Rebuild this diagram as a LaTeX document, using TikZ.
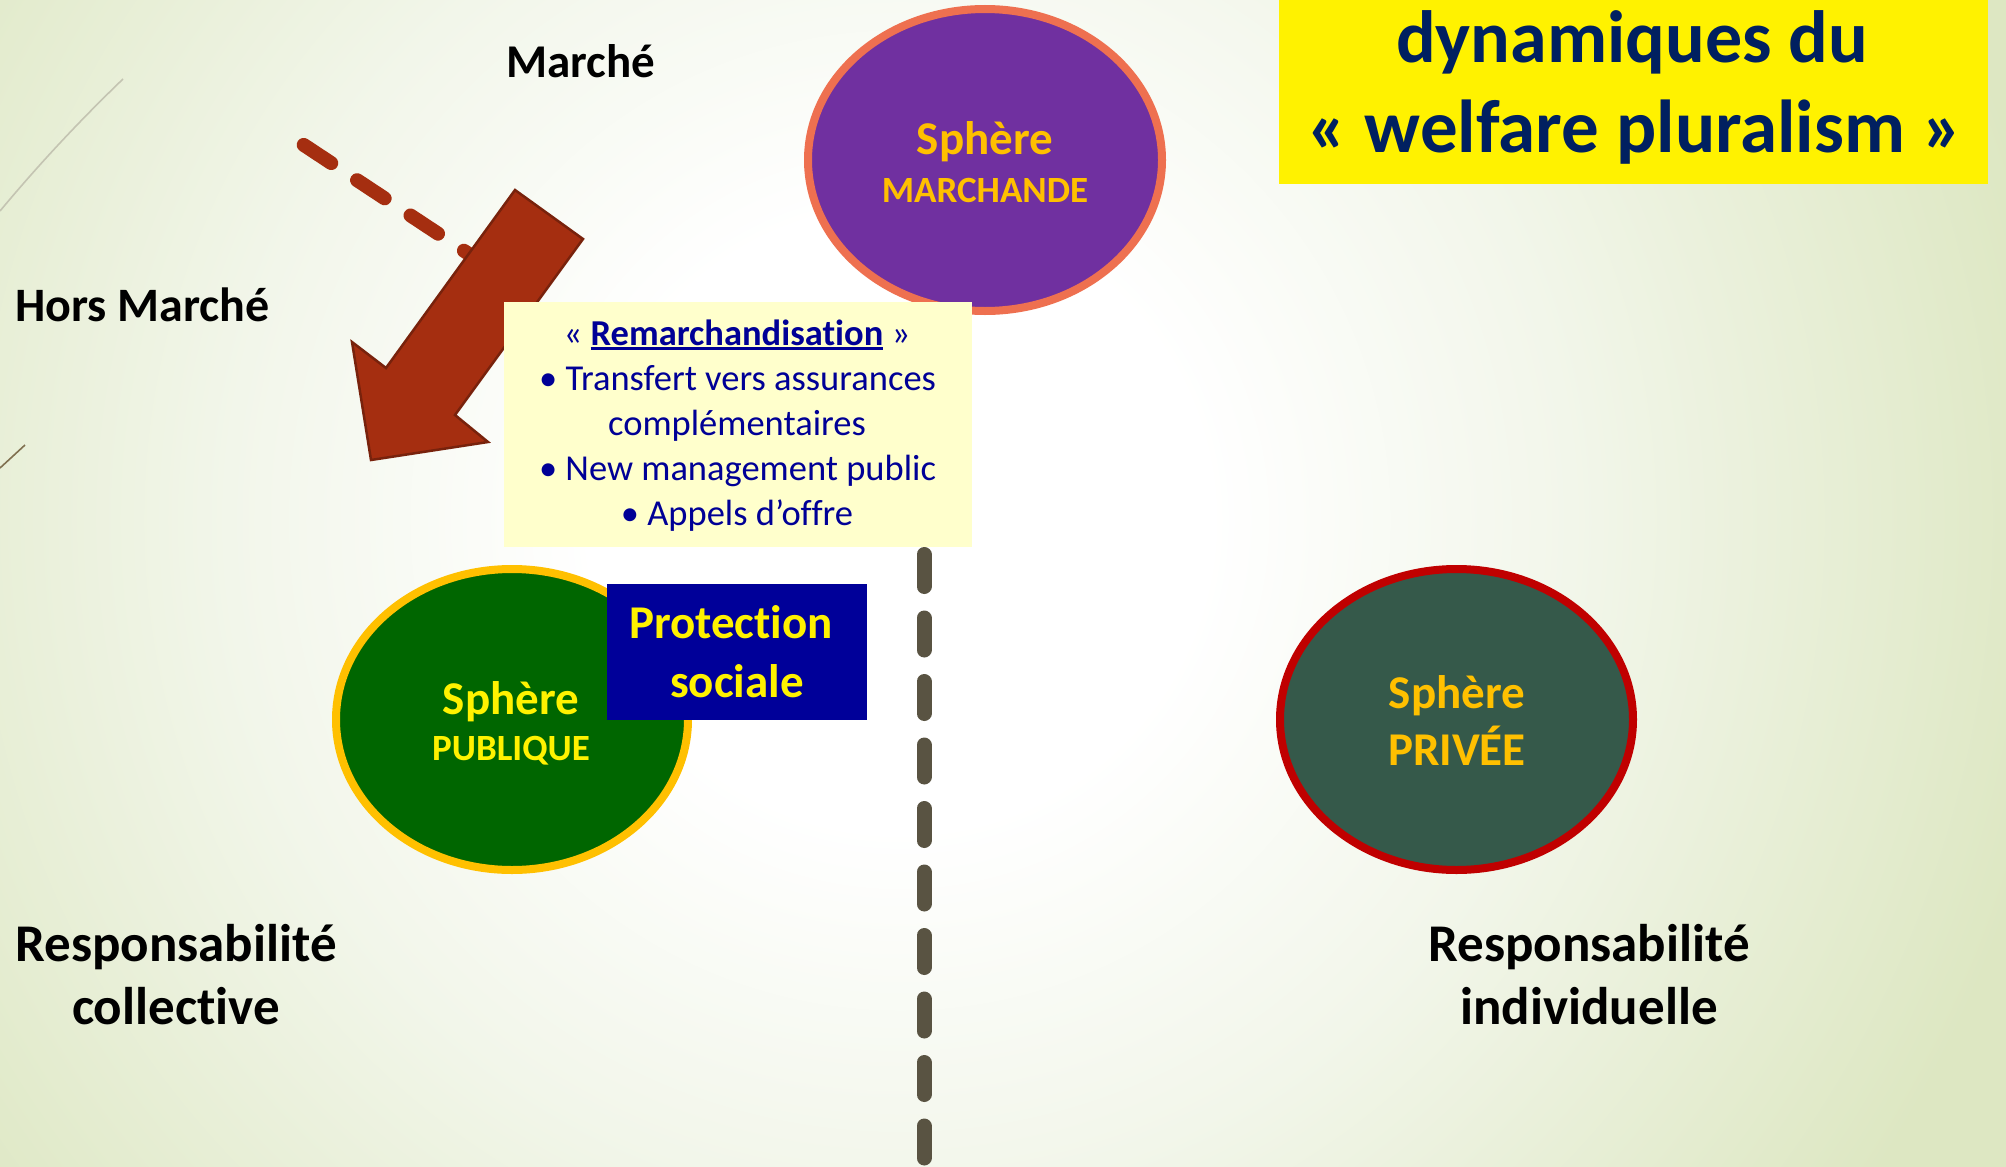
\documentclass[tikz,border=0pt]{standalone}
\usepackage{fontspec}
\setmainfont{Carlito}[Ligatures=NoCommon]
\usetikzlibrary{shapes.geometric}
\definecolor{bgouter}{RGB}{221,231,194}
\definecolor{bgmid}{RGB}{242,246,234}
\definecolor{purplefill}{RGB}{112,48,160}
\definecolor{coral}{RGB}{238,112,80}
\definecolor{gold}{RGB}{255,192,0}
\definecolor{greenfill}{RGB}{0,102,0}
\definecolor{privfill}{RGB}{53,89,74}
\definecolor{privborder}{RGB}{192,0,0}
\definecolor{arrowfill}{RGB}{165,46,16}
\definecolor{arrowline}{RGB}{120,34,12}
\definecolor{vdashcol}{RGB}{89,83,66}
\definecolor{boxfill}{RGB}{255,255,204}
\definecolor{boxtext}{RGB}{0,0,150}
\definecolor{protfill}{RGB}{0,0,153}
\definecolor{titletext}{RGB}{0,32,96}
\definecolor{deco1}{RGB}{196,196,178}
\definecolor{deco2}{RGB}{128,112,80}
\pgfdeclareradialshading{bgshade}{\pgfpoint{0bp}{0bp}}{color(0bp)=(white); color(5.5bp)=(white); color(12bp)=(bgmid); color(21bp)=(bgouter); color(50bp)=(bgouter)}
\newcommand\myul[1]{\setbox0\hbox{#1}\rlap{\rule[-5pt]{\wd0}{2.6pt}}\box0\relax}
\tikzset{
  txt/.style={inner sep=0pt, anchor=base},
  bigbold/.style={txt, font=\fontsize{47pt}{56pt}\selectfont\bfseries},
  horsbold/.style={txt, font=\fontsize{48pt}{56pt}\selectfont\bfseries},
  respbold/.style={txt, font=\fontsize{53pt}{64pt}\selectfont\bfseries},
  smallbold/.style={txt, font=\fontsize{37pt}{44pt}\selectfont\bfseries},
  boxline/.style={txt, text=boxtext, font=\fontsize{36.5pt}{45pt}\selectfont},
  titleline/.style={txt, text=titletext, font=\fontsize{74pt}{88pt}\selectfont\bfseries},
  titleline2/.style={txt, text=titletext, font=\fontsize{75pt}{88pt}\selectfont\bfseries},
  sphere/.style={ellipse, inner sep=0pt, line width=8pt},
  vdashline/.style={draw=vdashcol, line width=15pt, line cap=round, dash pattern=on 32pt off 31.5pt},
  odashline/.style={draw=arrowfill, line width=14pt, line cap=round, dash pattern=on 33pt off 31pt},
}
\begin{document}
\begin{tikzpicture}[x=1pt,y=-1pt]
\useasboundingbox (0,0) rectangle (2006,1167);
\begin{scope}
\clip (0,0) rectangle (2006,1167);
\shade[shading=bgshade] (900,520) circle[radius=1400pt];
% decorative theme lines
\coordinate (d1a) at (123,79);
\coordinate (d1b) at (0,211);
\draw[deco1, line width=1.6pt] (d1a) .. controls (70,130) and (30,175) .. (d1b);
\coordinate (d2a) at (25,445);
\coordinate (d2b) at (0,468);
\draw[deco2, line width=1.6pt] (d2a) -- (d2b);
% vertical dashed separator
\coordinate (vtop) at (924,554.5);
\coordinate (vbot) at (924,1220);
\draw[vdashline] (vtop) -- (vbot);
\end{scope}
% Sphere marchande
\node[sphere, draw=coral, fill=purplefill, minimum width=354pt, minimum height=302pt] (marchande) at (985,160) {};
% oblique dashed line
\coordinate (oa) at (303.7,144.9);
\coordinate (ob) at (495.5,271.6);
\draw[odashline] (oa) -- (ob);
% block arrow
\coordinate (a1) at (515,190);
\coordinate (a2) at (583,239);
\coordinate (a3) at (455,415);
\coordinate (a4) at (488,442);
\coordinate (a5) at (371,460);
\coordinate (a6) at (352,342);
\coordinate (a7) at (386,368);
\filldraw[fill=arrowfill, draw=arrowline, line width=2.5pt, line join=miter] (a1) -- (a2) -- (a3) -- (a4) -- (a5) -- (a6) -- (a7) -- cycle;
% Remarchandisation box
\node[fill=boxfill, inner sep=0pt, minimum width=468pt, minimum height=245pt] (remarch) at (738,424.5) {};
\node[boxline] (r1) at (737,345) {« \myul{\textbf{Remarchandisation}} »};
\node[boxline] (r2) at (737.5,390) {• Transfert vers assurances};
\node[boxline] (r3) at (737,435) {complémentaires};
\node[boxline] (r4) at (737.5,480) {• New management public};
\node[boxline] (r5) at (737,525) {• Appels d’offre};
% Sphere publique
\node[sphere, draw=gold, fill=greenfill, minimum width=352pt, minimum height=301pt] (publique) at (512,719.5) {};
% Protection sociale
\node[fill=protfill, inner sep=0pt, minimum width=260pt, minimum height=136pt] (protection) at (737,652) {};
\node[bigbold, text=yellow] (p1) at (731,638) {Protection};
\node[bigbold, text=yellow] (p2) at (737,697) {sociale};
% Sphere privee
\node[sphere, draw=privborder, fill=privfill, minimum width=353pt, minimum height=301pt] (privee) at (1456.5,719.5) {};
% title box
\node[fill=yellow, inner sep=0pt, minimum width=709pt, minimum height=184pt] (title) at (1633.5,92) {};
\node[titleline] (t1) at (1632,62.5) {dynamiques du};
\node[titleline2] (t2) at (1635,152) {« welfare pluralism »};
% sphere labels
\node[bigbold, text=gold] (m1) at (985,154) {Sphère};
\node[smallbold, text=gold] (m2) at (985,202) {MARCHANDE};
\node[bigbold, text=yellow] (u1) at (511,714) {Sphère};
\node[smallbold, text=yellow] (u2) at (511,760) {PUBLIQUE};
\node[bigbold, text=gold] (v1) at (1457,708) {Sphère};
\node[bigbold, text=gold] (v2) at (1457,765) {PRIVÉE};
% axis labels
\node[bigbold] (marche) at (581,77) {Marché};
\node[horsbold, anchor=base west] (hors) at (15,321) {Hors Marché};
\node[respbold] (rc1) at (176,961) {Responsabilité};
\node[respbold] (rc2) at (176,1024) {collective};
\node[respbold] (ri1) at (1589,961) {Responsabilité};
\node[respbold] (ri2) at (1589,1024) {individuelle};
\end{tikzpicture}
\end{document}
